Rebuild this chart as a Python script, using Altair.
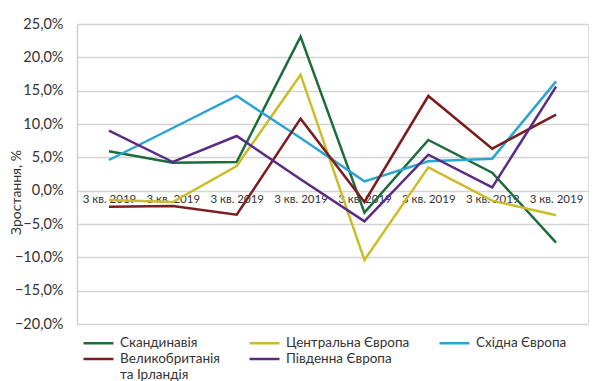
import altair as alt
import pandas as pd
import json

periods = list(range(8))
period_labels = ["3 кв. 2019"] * 8

series_names = [
    "Скандинавія",
    "Центральна Європа",
    "Східна Європа",
    "Великобританія|та Ірландія",
    "Південна Європа",
]
series_colors = ["#1e6b3b", "#cbbd28", "#28a5d1", "#7b1c1f", "#5a2b82"]

scandinavia = [5.9, 4.2, 4.3, 23.1, -3.3, 7.6, 2.7, -7.8]
central = [-1.4, -1.7, 3.7, 17.4, -10.4, 3.5, -1.5, -3.7]
eastern = [4.6, 9.4, 14.2, 7.9, 1.4, 4.4, 4.8, 16.4]
uk_ireland = [-2.4, -2.3, -3.6, 10.8, -1.7, 14.2, 6.3, 11.4]
southern = [9.0, 4.3, 8.2, 1.7, -4.6, 5.4, 0.5, 15.6]

all_values = [scandinavia, central, eastern, uk_ireland, southern]

rows = []
for name, vals in zip(series_names, all_values):
    for p, v in zip(periods, vals):
        rows.append({"period": p, "series": name, "value": v / 100})
df = pd.DataFrame(rows)

FONT = "Lato"
labels_js = json.dumps(period_labels, ensure_ascii=False)

chart = alt.Chart(df).mark_line(strokeWidth=2.5).encode(
    x=alt.X(
        "period:O",
        title=None,
        axis=alt.Axis(
            labelExpr=f"{labels_js}[datum.value]",
            labelAngle=0,
            offset=-133,
            domain=False,
            ticks=False,
            labelPadding=2,
            labelFontSize=11.5,
            labelColor="#333333",
            labelFont=FONT,
            grid=False,
        ),
        scale=alt.Scale(paddingInner=0, paddingOuter=0.5),
    ),
    y=alt.Y(
        "value:Q",
        title="Зростання, %",
        scale=alt.Scale(domain=[-0.2, 0.25], nice=False),
        axis=alt.Axis(
            values=[-0.2, -0.15, -0.1, -0.05, 0, 0.05, 0.1, 0.15, 0.2, 0.25],
            labelExpr="replace(format(datum.value, '.1%'), '.', ',')",
            labelFontSize=14.5,
            labelFont=FONT,
            labelColor="#333333",
            labelPadding=14,
            ticks=False,
            domainColor="#cfcfcf",
            domainWidth=1.5,
            gridColor="#d4d4d4",
            gridWidth=1.5,
            titleFont=FONT,
            titleFontSize=14,
            titleFontWeight="normal",
            titleColor="#333333",
            titleX=-54,
            titleY=168,
        ),
    ),
    color=alt.Color(
        "series:N",
        title=None,
        scale=alt.Scale(domain=series_names, range=series_colors),
        sort=series_names,
        legend=alt.Legend(
            orient="none",
            direction="horizontal",
            legendX=5,
            legendY=310,
            columns=3,
            columnPadding=24,
            rowPadding=-2,
            symbolType="M-1,0H3",
            symbolSize=225,
            symbolStrokeWidth=2.5,
            symbolFillColor="transparent",
            labelFont=FONT,
            labelFontSize=13.5,
            labelColor="#333333",
            labelOffset=20,
            labelLimit=300,
            labelExpr="split(datum.label, '|')",
        ),
    ),
).properties(
    width=511,
    height=300,
    autosize=alt.AutoSizeParams(type="none"),
    padding={"left": 69, "top": 16, "right": 3, "bottom": 57},
).configure_view(stroke=None).configure(background="white")

chart.save("out.html", embed_options={"renderer": "svg", "actions": False})
